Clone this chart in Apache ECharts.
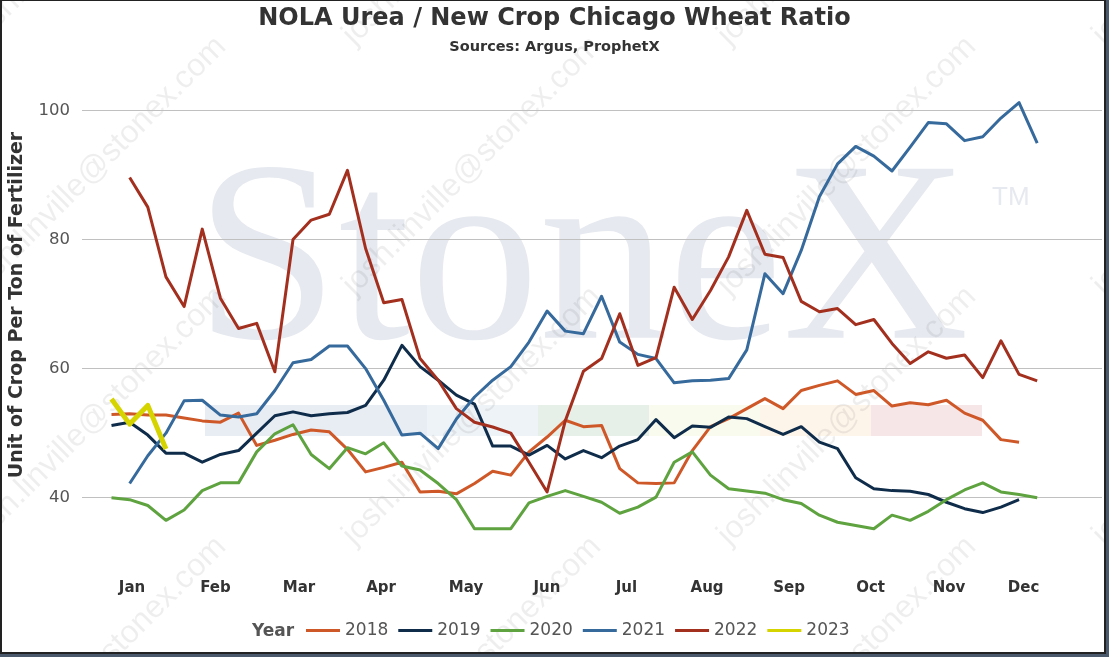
<!DOCTYPE html>
<html>
<head>
<meta charset="utf-8">
<script src="https://cdn.jsdelivr.net/npm/echarts@6/dist/echarts.min.js"></script>
<style>
html,body{margin:0;padding:0;background:#fff;}
#wrap{position:relative;width:1109px;height:657px;overflow:hidden;}
#chart{position:absolute;left:0;top:0;width:1109px;height:657px;background:#fff;}
.fr{position:absolute;pointer-events:none;}
</style>
</head>
<body>
<div id="wrap">
<div id="chart"></div>
<div class="fr" style="left:0;top:0;width:1109px;height:1px;background:#222;"></div>
<div class="fr" style="left:0;top:0;width:2px;height:657px;background:#222;"></div>
<div class="fr" style="left:1104px;top:0;width:2px;height:655px;background:#222;"></div>
<div class="fr" style="left:1106px;top:0;width:3px;height:657px;background:#4a5a6c;"></div>
<div class="fr" style="left:0;top:652px;width:1106px;height:2px;background:#222;"></div>
<div class="fr" style="left:0;top:654px;width:1109px;height:3px;background:#4a5a6c;"></div>
</div>
<script>
// ---- data (index = week of year, 0-based) ----
const years = ['2018', '2019', '2020', '2021', '2022', '2023'];
const monthLabels = ['Jan','Feb','Mar','Apr','May','Jun','Jul','Aug','Sep','Oct','Nov','Dec'];
const monthWeekPos = [1.13, 5.73, 10.33, 14.85, 19.53, 23.99, 28.37, 32.81, 37.33, 41.82, 46.14, 50.25];
const yTickValues = [40, 60, 80, 100];

const y2018 = [52.9, 53.0, 52.8, 52.8, 52.35, 51.9, 51.7, 53.1, 48.1, 48.9, 49.8, 50.5, 50.2, 47.5, 44.0,
  44.7, 45.5, 40.9, 41.0, 40.6, 42.2, 44.1, 43.5, 47.1, 49.4, 52.0, 51.0, 51.2, 44.5, 42.3, 42.2, 42.3,
  47.3, 51.0, 52.25, 53.8, 55.35, 53.8, 56.6, 57.4, 58.1, 56.0, 56.6, 54.2, 54.7, 54.4, 55.1, 53.1, 52.0,
  49.0, 48.6];
const y2019 = [51.2, 51.7, 49.7, 46.9, 46.9, 45.5, 46.7, 47.3, 50.0, 52.7, 53.3, 52.7, 53.0, 53.2, 54.3,
  58.2, 63.6, 60.3, 58.2, 55.9, 54.5, 48.0, 48.0, 46.6, 48.1, 46.0, 47.3, 46.2, 48.0, 49.0, 52.1, 49.3,
  51.1, 50.9, 52.5, 52.25, 51.0, 49.8, 51.0, 48.6, 47.6, 43.1, 41.4, 41.1, 41.0, 40.5, 39.3, 38.3, 37.7,
  38.55, 39.7];
const y2020 = [40.0, 39.7, 38.8, 36.5, 38.1, 41.1, 42.3, 42.3, 47.1, 49.9, 51.3, 46.7, 44.5, 47.75, 46.8,
  48.5, 44.9, 44.3, 42.2, 39.7, 35.2, 35.2, 35.2, 39.2, 40.2, 41.1, 40.2, 39.3, 37.6, 38.55, 40.1, 45.5,
  47.1, 43.5, 41.4, 41.05, 40.7, 39.7, 39.1, 37.3, 36.2, 35.7, 35.2, 37.3, 36.5, 37.9, 39.7, 41.2, 42.3,
  40.9, 40.5, 40.0];
const y2021 = [null, 42.2, 46.5, 50.0, 55.0, 55.1, 52.8, 52.5, 53.0, 56.6, 60.9, 61.4, 63.5, 63.5, 60.0,
  55.1, 49.7, 50.0, 47.6, 52.2, 55.6, 58.2, 60.3, 64.1, 68.9, 65.8, 65.4, 71.2, 64.1, 62.2, 61.55, 57.8,
  58.1, 58.2, 58.45, 62.9, 74.7, 71.6, 78.3, 86.6, 91.7, 94.4, 92.9, 90.6, 94.3, 98.1, 97.9, 95.3, 95.9,
  98.8, 101.2, 94.9];
const y2022 = [null, 89.6, 85.0, 74.2, 69.6, 81.6, 70.9, 66.2, 67.0, 59.5, 80.0, 83.0, 83.9, 90.7, 78.6,
  70.2, 70.7, 61.55, 58.2, 53.8, 51.7, 50.95, 50.0, 45.5, 40.9, 51.9, 59.6, 61.55, 68.5, 60.5, 61.7, 72.6,
  67.6, 72.1, 77.3, 84.5, 77.7, 77.2, 70.4, 68.8, 69.3, 66.8, 67.6, 63.9, 60.8, 62.6, 61.6, 62.1, 58.6,
  64.3, 59.1, 58.1];
const y2023 = [55.3, 51.4, 54.3, 47.55];

const seriesValues = [y2018, y2019, y2020, y2021, y2022, y2023];
const seriesColors = ['#cf5829', '#0f2d4b', '#5ea33f', '#366a9c', '#a3301f', '#d6d400'];
const seriesWidths = [3, 3, 3, 3, 3, 5];

function toPairs(arr) {
  const out = [];
  arr.forEach((v, i) => { if (v !== null && v !== undefined) out.push([i, v]); });
  return out;
}

const FONT = 'DejaVu Sans, Verdana, sans-serif';

// watermark graphics
const wm = [];
const bandColors = ['#e8ecf3', '#e8ecf3', '#eef3f8', '#e7efe9', '#fafbef', '#fdf5ea', '#f7e6e8'];
bandColors.forEach((c, i) => {
  wm.push({ type: 'rect', z: -10, shape: { x: 205 + i * 111, y: 405, width: 111, height: 31 }, style: { fill: c } });
});
wm.push({ type: 'text', z: -9, x: 195, y: 270,
  style: { text: 'StoneX', font: '258px "Liberation Serif", "DejaVu Serif", serif', fill: '#e6e9ef',
    align: 'left', verticalAlign: 'middle' } });
wm.push({ type: 'text', z: -9, x: 992, y: 198,
  style: { text: 'TM', font: '26px "Liberation Sans", Arial, sans-serif', fill: '#e6e9ef',
    align: 'left', verticalAlign: 'middle' } });
for (let ci = 0; ci < 4; ci++) {
  for (let ri = 0; ri < 4; ri++) {
    wm.push({ type: 'text', z: -8, x: -27 + ci * 375, y: 40 + ri * 250, rotation: Math.PI / 4,
      style: { text: 'josh.linville@stonex.com', font: '32px "Liberation Sans", Arial, sans-serif',
        fill: 'rgba(0,0,0,0.065)', align: 'left', verticalAlign: 'middle' } });
  }
}
wm.push({ type: 'text', z: 10, x: 17, y: 305, rotation: Math.PI / 2,
  style: { text: 'Unit of Crop Per Ton of Fertilizer', font: 'bold 19px ' + FONT, fill: '#333',
    align: 'center', verticalAlign: 'middle' } });

const chart = echarts.init(document.getElementById('chart'), null, { renderer: 'canvas' });
chart.setOption({
  animation: false,
  backgroundColor: 'transparent',
  title: [
    { text: 'NOLA Urea / New Crop Chicago Wheat Ratio', left: 'center', top: 6.5, padding: 0,
      textStyle: { fontFamily: FONT, fontWeight: 'bold', fontSize: 24, color: '#333' } },
    { text: 'Sources: Argus, ProphetX', left: 'center', top: 39.5, padding: 0,
      textStyle: { fontFamily: FONT, fontWeight: 'bold', fontSize: 14.5, color: '#333' } },
    { text: 'Year', left: 252, top: 623, padding: 0,
      textStyle: { fontFamily: FONT, fontWeight: 'bold', fontSize: 17, color: '#555' } }
  ],
  legend: {
    data: years, left: 306, top: 622, padding: 0, itemGap: 10, itemWidth: 34, itemHeight: 3,
    icon: 'rect', selectedMode: false,
    textStyle: { fontFamily: FONT, fontSize: 17, color: '#555' }
  },
  grid: { left: 82, right: 7, top: 78, bottom: 94.7, containLabel: false },
  xAxis: {
    type: 'value', min: -1.625, max: 54.57,
    axisLine: { show: false }, splitLine: { show: false },
    axisTick: { show: false, customValues: monthWeekPos },
    axisLabel: {
      customValues: monthWeekPos, margin: 18,
      fontFamily: FONT, fontWeight: 'bold', fontSize: 15, color: '#333',
      formatter: function (v) {
        let best = 0, bd = 1e9;
        monthWeekPos.forEach((p, i) => { const d = Math.abs(p - v); if (d < bd) { bd = d; best = i; } });
        return monthLabels[best];
      }
    }
  },
  yAxis: {
    type: 'value', min: 30, max: 105,
    axisLine: { show: false },
    axisTick: { show: false, customValues: yTickValues },
    axisLabel: { customValues: yTickValues, margin: 12, fontFamily: FONT, fontSize: 16.5, color: '#555' },
    splitLine: { show: true, lineStyle: { color: '#c0c0c0', width: 1 } }
  },
  graphic: { elements: wm },
  series: years.map((y, i) => ({
    name: y, type: 'line', data: toPairs(seriesValues[i]),
    showSymbol: false, symbol: 'none', smooth: false, z: 2 + i,
    color: seriesColors[i],
    lineStyle: { color: seriesColors[i], width: seriesWidths[i], join: 'round' },
    emphasis: { disabled: true }
  }))
});
</script>
</body>
</html>
